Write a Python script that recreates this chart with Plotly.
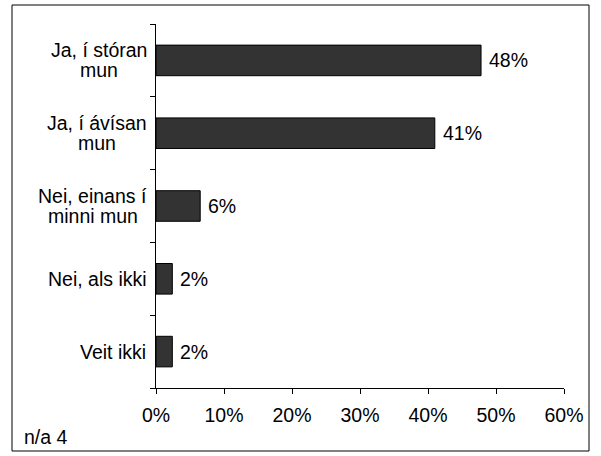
import plotly.graph_objects as go

categories = ["Ja, í stóran<br>mun", "Ja, í ávísan<br>mun", "Nei, einans í<br>minni mun", "Nei, als ikki", "Veit ikki"]
values = [47.8, 41.0, 6.5, 2.4, 2.4]
value_labels = ["48%", "41%", "6%", "2%", "2%"]
tick_vals = [0, 10, 20, 30, 40, 50, 60]
tick_text = ["0%", "10%", "20%", "30%", "40%", "50%", "60%"]
note = "n/a 4"

FONT = "Liberation Sans, Arial, Helvetica, sans-serif"
FS = 19.5
LINE_H = 20  # px between label lines

# approximate Arial advance widths (per 1000 em) used to centre wrapped label lines
W = {' ': 278, ',': 278, 'J': 500, 'N': 722, 'V': 667, 'a': 556, 'e': 556, 'i': 222,
     'í': 278, 'k': 500, 'l': 222, 'm': 833, 'n': 556, 'r': 333, 's': 500, 't': 278,
     'u': 556, 'v': 500, 'á': 556, 'ó': 556}


def text_w(s):
    return sum(W.get(ch, 556) for ch in s) * FS / 1000.0


L_PX, R_PX, T_PX, B_PX = 156, 37, 24, 68
PW, PH = 601 - L_PX - R_PX, 456 - T_PX - B_PX


def px_x(x):
    return (x - L_PX) / PW


def px_y(y):
    return (456 - B_PX - y) / PH


fig = go.Figure()
fig.add_trace(go.Bar(
    y=categories, x=values, orientation="h",
    marker=dict(color="#333333", line=dict(color="#000000", width=1)),
    hoverinfo="skip",
))

LABEL_GAP = 9
for c in categories:
    lines = c.split("<br>")
    n = len(lines)
    w_max = max(text_w(s) for s in lines)
    for i, s in enumerate(lines):
        ys = ((n - 1) / 2.0 - i) * LINE_H
        fig.add_annotation(x=0, xref="paper", y=c, yref="y", text=s,
                           xanchor="center", yanchor="middle",
                           xshift=-LABEL_GAP - w_max / 2.0, yshift=ys,
                           showarrow=False,
                           font=dict(family=FONT, size=FS, color="#000000"))

for c, v, t in zip(categories, values, value_labels):
    fig.add_annotation(x=v, xref="x", y=c, yref="y", text=t,
                       xanchor="left", yanchor="middle", xshift=6,
                       showarrow=False,
                       font=dict(family=FONT, size=FS, color="#000000"))

fig.add_annotation(x=px_x(22), xref="paper", y=px_y(437), yref="paper", text=note,
                   xanchor="left", yanchor="middle", showarrow=False,
                   font=dict(family=FONT, size=FS, color="#000000"))

fig.add_shape(type="rect", xref="paper", yref="paper",
              x0=px_x(12), x1=px_x(589), y0=px_y(451), y1=px_y(5),
              line=dict(color="#000000", width=1), fillcolor="rgba(0,0,0,0)")

fig.update_layout(
    width=601, height=456,
    margin=dict(l=L_PX, r=R_PX, t=T_PX, b=B_PX),
    paper_bgcolor="white", plot_bgcolor="white",
    showlegend=False, bargap=0.58,
    font=dict(family=FONT, size=FS, color="#000000"),
)
fig.update_xaxes(range=[0, 60], tickvals=tick_vals, ticktext=tick_text,
                 showgrid=False, zeroline=False, showline=True, linecolor="#000000",
                 linewidth=1, ticks="outside", ticklen=5, tickcolor="#000000",
                 ticklabelstandoff=5,
                 tickfont=dict(family=FONT, size=FS, color="#000000"))
fig.update_yaxes(categoryorder="array", categoryarray=categories[::-1],
                 showticklabels=False, showgrid=False, zeroline=False,
                 showline=True, linecolor="#000000", linewidth=1,
                 ticks="outside", ticklen=5, tickcolor="#000000", tickson="boundaries")

fig.write_html("out.html", config={"displayModeBar": False},
               post_script="document.body.style.margin='0';document.body.style.overflow='hidden';")
